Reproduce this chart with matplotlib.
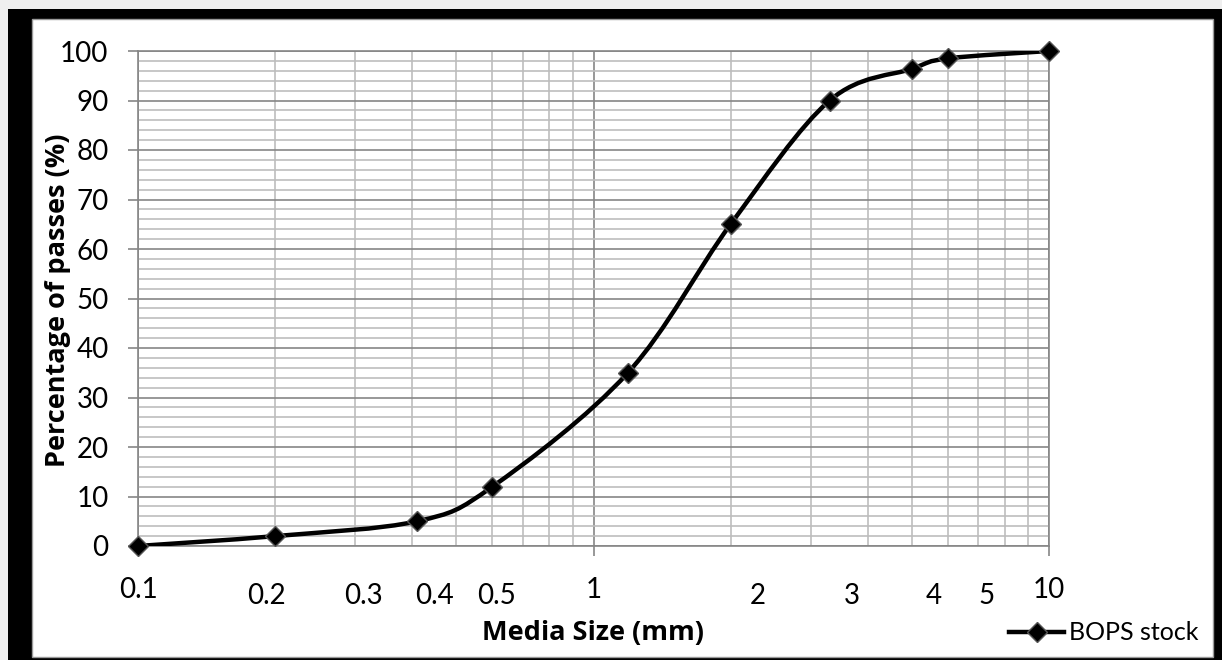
"""Sieve curve for BOPS stock: percentage passing vs media size (log scale)."""
import numpy as np
import matplotlib
matplotlib.use("Agg")
import matplotlib.pyplot as plt
from matplotlib.patches import Rectangle, PathPatch
from matplotlib.path import Path
from matplotlib.ticker import MultipleLocator, LogLocator, NullFormatter, FixedLocator, FixedFormatter
from matplotlib.lines import Line2D

plt.rcParams["font.family"] = ["Lato", "DejaVu Sans"]

# data
sizes = [0.1, 0.2, 0.41, 0.6, 1.19, 2.0, 3.3, 5.0, 6.0, 10.0]
passing = [0, 2, 5, 12, 35, 65, 90, 96.4, 98.5, 100]
series_name = "BOPS stock"

major_x = [0.1, 1, 10]
major_x_labels = ["0.1", "1", "10"]
# extra labels placed by hand under the axis (as in the source), axes-fraction x
extra_labels = ["0.2", "0.3", "0.4", "0.5", "2", "3", "4", "5"]
extra_pos = [0.141, 0.248, 0.325, 0.393, 0.680, 0.784, 0.873, 0.931]

GRID_MAJ = "#868686"
GRID_MIN = "#bdbdbd"
W, H = 1222, 660
TICK_FS = 20
BOLD = dict(family=["Open Sans", "DejaVu Sans"], fontweight="bold", fontsize=19.5)

fig = plt.figure(figsize=(W / 100, H / 100), dpi=100, facecolor="#efefef")

# black frame + white card
fig.patches.append(Rectangle((8 / W, 0), 1 - 8 / W, 1 - 9 / H, transform=fig.transFigure,
                             fc="black", ec="none", zorder=-2))
fig.patches.append(Rectangle((32 / W, 3 / H), (1213 - 32) / W, (657 - 19) / H,
                             transform=fig.transFigure, fc="white", ec="#9a9a9a", lw=1, zorder=-1))

ax = fig.add_axes([138 / W, 1 - 546 / H, (1049 - 138) / W, (546 - 51) / H])
ax.set_zorder(2)
ax.set_facecolor("white")
ax.set_xscale("log")
ax.set_xlim(0.1, 10)
ax.set_ylim(0, 100)

ax.yaxis.set_major_locator(MultipleLocator(10))
ax.yaxis.set_minor_locator(MultipleLocator(2))
ax.xaxis.set_major_locator(FixedLocator(major_x))
ax.xaxis.set_major_formatter(FixedFormatter(major_x_labels))
ax.xaxis.set_minor_locator(LogLocator(base=10, subs=np.arange(2, 10)))
ax.xaxis.set_minor_formatter(NullFormatter())

ax.grid(which="minor", color=GRID_MIN, lw=1.2, zorder=0)
ax.grid(which="major", color=GRID_MAJ, lw=1.2, zorder=0)
ax.set_axisbelow(True)
for sp in ax.spines.values():
    sp.set_color(GRID_MAJ)
    sp.set_linewidth(1.2)

ax.tick_params(which="major", axis="both", length=7.2, width=1.2, color=GRID_MAJ,
               labelsize=TICK_FS, labelcolor="black")
ax.tick_params(which="major", axis="y", pad=14)
ax.tick_params(which="major", axis="x", pad=15)
ax.tick_params(which="minor", length=0)

for s, xp in zip(extra_labels, extra_pos):
    ax.text(xp, -0.1, s, transform=ax.transAxes, ha="center", va="center", fontsize=TICK_FS)

# smoothed line (Excel style bezier through the points, in log-x space)
u = np.log10(sizes)
v = np.array(passing, dtype=float)
P = np.column_stack([u, v])
verts = [P[0]]
codes = [Path.MOVETO]
n = len(P)
for i in range(n - 1):
    p_prev = P[i - 1] if i > 0 else P[i]
    p_next2 = P[i + 2] if i + 2 < n else P[i + 1]
    c1 = P[i] + (P[i + 1] - p_prev) / 6
    c2 = P[i + 1] - (p_next2 - P[i]) / 6
    verts += [c1, c2, P[i + 1]]
    codes += [Path.CURVE4] * 3
verts = np.array(verts)
verts[:, 0] = 10 ** verts[:, 0]
ax.add_patch(PathPatch(Path(verts, codes), fc="none", ec="black", lw=3.2,
                       capstyle="round", zorder=3))
ax.plot(sizes, passing, ls="none", marker="D", ms=10, mfc="black", mec="#555555",
        mew=1, zorder=4, clip_on=False)

fig.text(58 / W, 1 - 300 / H, "Percentage of passes (%)", rotation=90, ha="center",
         va="center", **BOLD)
fig.text(593 / W, 1 - 633 / H, "Media Size (mm)", ha="center", va="center", **BOLD)

handle = Line2D([], [], color="black", lw=3.2, marker="D", ms=10, mfc="black", mec="#555555")
fig.legend([handle], [series_name], loc="center left", bbox_to_anchor=(1009 / W, 1 - 633 / H),
           frameon=False, fontsize=18, handlelength=2.2, handletextpad=0.2,
           borderpad=0, borderaxespad=0)

fig.savefig("out.png", dpi=100, facecolor=fig.get_facecolor())
